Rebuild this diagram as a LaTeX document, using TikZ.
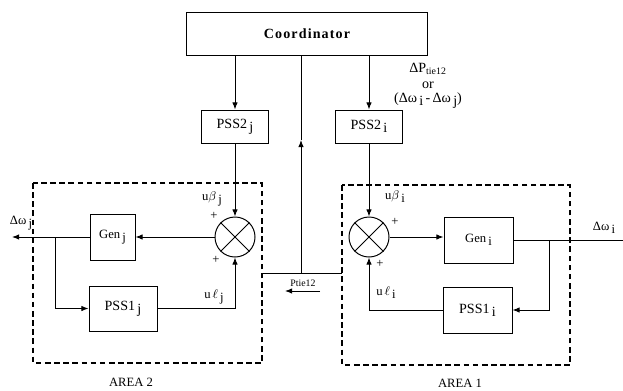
\documentclass[tikz,border=0pt]{standalone}
\usepackage{fontspec}
\setmainfont{Liberation Serif}
\usetikzlibrary{arrows.meta,calc,positioning}
\newcommand{\lowidx}[1]{\,\raisebox{-0.5ex}{#1}}
\tikzset{box/.style={draw,line width=0.7pt,align=center,inner sep=2pt,font=\small},
  pssbox/.style={box,font=\normalsize},
  sumnode/.style={draw,circle,line width=0.7pt,minimum size=1cm,inner sep=0pt},
  area/.style={line width=0.9pt,dash pattern=on 4pt off 2.5pt},
  arr/.style={-{Latex[length=1.8mm,width=1.4mm]},line width=0.7pt},
  wire/.style={line width=0.7pt},
  lbl/.style={font=\small,inner sep=1pt}}

\begin{document}
\begin{tikzpicture}[x=0.025cm,y=-0.025cm]
\useasboundingbox (0,0) rectangle (623,390);
% coordinator and secondary stabilisers
\node[box,minimum width=6cm,minimum height=1.075cm,font=\normalsize\bfseries\addfontfeature{LetterSpace=8}] (coord) at (307,33.5) {Coordinator};
\node[pssbox,minimum width=1.675cm,minimum height=0.825cm] (pss2j) at (235,126.5) {PSS2\lowidx{j}};
\node[pssbox,minimum width=1.675cm,minimum height=0.825cm] (pss2i) at (369,126.5) {PSS2\lowidx{i}};
\node[lbl,font=\normalsize,align=center] (dptie) at (428,86) {ΔP\textsubscript{tie12}\\[-1pt]or\\[-2pt](Δω\lowidx{i}\,-\,Δω\lowidx{j})};

% area 2
\draw[area] (33,183) rectangle (262,363);
\node[sumnode] (sumj) at (235,237) {};
\draw[wire] (sumj.north west) -- (sumj.south east) (sumj.north east) -- (sumj.south west);
\node[box,minimum width=1.125cm,minimum height=1.15cm] (genj) at (112.5,237) {Gen\lowidx{j}};
\node[pssbox,minimum width=1.7cm,minimum height=1.125cm] (pss1j) at (123,308.5) {PSS1\lowidx{j}};
\coordinate (outj) at (12,237);
\coordinate (brj) at (55,237);
\node[lbl] (ugj) at (212,199) {u$\beta$\lowidx{j}};
\node[lbl] (ulj) at (214,297) {u\,$\ell$\lowidx{j}};
\node[lbl] at (214,216) {+};
\node[lbl] at (216,260) {+};
\node[lbl] (dwj) at (21,223) {Δω\lowidx{j}};
\node[font=\small] (area2) at (131,382) {AREA 2};

% area 1
\draw[area] (342,185) rectangle (570,365);
\node[sumnode] (sumi) at (369,237) {};
\draw[wire] (sumi.north west) -- (sumi.south east) (sumi.north east) -- (sumi.south west);
\node[box,minimum width=1.725cm,minimum height=1.15cm] (geni) at (478.5,240) {Gen\lowidx{i}};
\node[pssbox,minimum width=1.725cm,minimum height=1.15cm] (pss1i) at (477.5,310) {PSS1\lowidx{i}};
\coordinate (outi) at (623,240);
\coordinate (bri) at (549,240);
\node[lbl] (ugi) at (395,197) {u$\beta$\lowidx{i}};
\node[lbl] (uli) at (386,293) {u\,$\ell$\lowidx{i}};
\node[lbl] at (395,222) {+};
\node[lbl] at (380,264) {+};
\node[lbl] (dwi) at (604,228) {Δω\lowidx{i}};
\node[font=\small] (area1) at (460,383) {AREA 1};

% tie-line power
\coordinate (tl) at (262,273);
\coordinate (tr) at (342,273);
\coordinate (tm) at (301,273);
\coordinate (tmid) at (301,140);
\node[font=\scriptsize,inner sep=1pt] (ptie) at (303,283) {Ptie12};
\coordinate (pa) at (320,291);
\coordinate (pb) at (285,291);

% connections
\draw[arr] (coord.south -| pss2j) -- (pss2j);
\draw[arr] (coord.south -| pss2i) -- (pss2i);
\draw[arr] (pss2j) -- (sumj);
\draw[arr] (pss2i) -- (sumi);
\draw[arr] (sumj.west) -- (genj.east);
\draw[arr] (genj.west) -- (outj);
\draw[arr] (brj) |- (pss1j.west);
\draw[arr] (pss1j.east) -| (sumj.south);
\draw[arr] (sumi.east) -- (sumi.east -| geni.west);
\draw[wire] (geni.east |- outi) -- (outi);
\draw[arr] (bri) |- (pss1i.east);
\draw[arr] (pss1i.west) -| (sumi.south);
\draw[wire] (tl) -- (tr);
\draw[arr] (tm) -- (tmid);
\draw[wire] (tmid) -- (coord.south -| tmid);
\draw[arr] (pa) -- (pb);
\end{tikzpicture}
\end{document}
